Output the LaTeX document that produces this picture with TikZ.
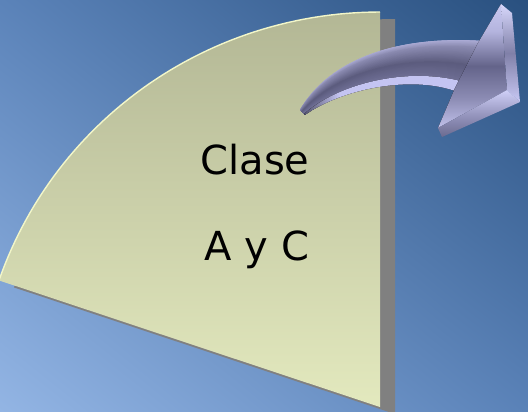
\documentclass[tikz,border=0pt]{standalone}
\usepackage{fontspec}
\setmainfont{DejaVu Sans}
\usetikzlibrary{calc,shadings}
\definecolor{bgUL}{HTML}{5B83B9}
\definecolor{bgUR}{HTML}{29507F}
\definecolor{bgLL}{HTML}{93B5E4}
\definecolor{bgLR}{HTML}{5A82B8}
\definecolor{secTop}{HTML}{B3B795}
\definecolor{secBot}{HTML}{E3E9BE}
\definecolor{arcHL}{HTML}{F2F6C8}
\definecolor{shadowgray}{HTML}{808080}
\definecolor{aEdge}{HTML}{B0B0DA}
\definecolor{aUpper}{HTML}{8A8AB0}
\definecolor{aDark}{HTML}{5C5C7E}
\definecolor{aLowDark}{HTML}{6E6E94}
\definecolor{aBand}{HTML}{C4C4F2}
\definecolor{bandDark}{HTML}{54546F}
\definecolor{hTop}{HTML}{C8C8F0}
\definecolor{hLight}{HTML}{B4B4DE}
\definecolor{hMid}{HTML}{64648A}
\definecolor{hLow}{HTML}{8C8CB4}
\definecolor{hBot}{HTML}{C0C0EA}
\definecolor{bvTop}{HTML}{D8D8FC}
\definecolor{bvMid}{HTML}{8080A8}
\definecolor{bvBot}{HTML}{C8C8F4}
\definecolor{bbDark}{HTML}{6A6A90}
\definecolor{bbMid}{HTML}{9898C0}
\definecolor{bbLight}{HTML}{D0D0F8}
\pgfdeclarehorizontalshading{bandshade}{100bp}{color(0bp)=(bandDark); color(25bp)=(bandDark); color(36bp)=(aBand); color(100bp)=(aBand)}
\pgfdeclareverticalshading{headshade}{100bp}{color(0bp)=(hBot); color(25bp)=(hBot); color(37bp)=(hLow); color(50bp)=(hMid); color(64bp)=(hLight); color(75bp)=(hTop); color(100bp)=(hTop)}
\newcommand\shaftband[5]{%
  \foreach \k in {0,...,#5}{%
    \pgfmathsetmacro\s{#1+(#2-#1)*\k/#5}%
    \pgfmathtruncatemacro\pc{100-100*\k/#5}%
    \draw[line width=2.2pt, color=#3!\pc!#4]
      ($(P0)!\s!(Q0)$) .. controls ($(P1)!\s!(Q1)$) and ($(P2)!\s!(Q2)$) .. ($(P3)!\s!(Q3)$);
  }}
\tikzset{lbl/.style={font=\fontsize{40}{48}\selectfont, text=black, inner sep=0pt}}
\begin{document}
\begin{tikzpicture}[x=1pt,y=-1pt]
\useasboundingbox (0,0) rectangle (528,412);
\shade[upper left=bgUL, upper right=bgUR, lower left=bgLL, lower right=bgLR] (0,0) rectangle (528,412);
% shadow
\fill[shadowgray, shift={(15,7)}] (380,407) -- plot[domain=90:161,samples=60] ({380+403*cos(\x)},{410-398*sin(\x)}) -- cycle;
% sector
\shade[top color=secTop, bottom color=secBot] (380,407) -- plot[domain=90:161,samples=60] ({380+403*cos(\x)},{410-398*sin(\x)}) -- cycle;
\draw[arcHL, line width=1.4pt] plot[domain=90:161,samples=60] ({380+403*cos(\x)},{410-398*sin(\x)});
% text
\node[lbl, anchor=base] (clase) at (255,175) {Clase};
\node[lbl, anchor=base] (ayc) at (257,260) {A y C};
% arrow shaft
\coordinate (P0) at (300,110);
\coordinate (P1) at (330,58);
\coordinate (P2) at (400,35);
\coordinate (P3) at (484,41);
\coordinate (Q0) at (305,115);
\coordinate (Q1) at (340,90);
\coordinate (Q2) at (410,74);
\coordinate (Q3) at (458,92);
\begin{scope}
\clip (P0) .. controls (P1) and (P2) .. (P3) -- (Q3) .. controls (Q2) and (Q1) .. (Q0) -- cycle;
\shaftband{0}{0.15}{aEdge}{aUpper}{8}
\shaftband{0.15}{0.5}{aUpper}{aDark}{20}
\shaftband{0.5}{0.82}{aDark}{aLowDark}{16}
\fill[shading=bandshade] ($(P0)!0.8!(Q0)$) .. controls ($(P1)!0.8!(Q1)$) and ($(P2)!0.8!(Q2)$) .. ($(P3)!0.8!(Q3)$)
  -- (Q3) .. controls (Q2) and (Q1) .. (Q0) -- cycle;
\end{scope}
% arrow head
\coordinate (A) at (501,4);
\coordinate (A2) at (512,13);
\coordinate (B) at (507,90);
\coordinate (B2) at (520,102);
\coordinate (C) at (438,128);
\coordinate (C2) at (442,137);
\coordinate (J1) at (478,43);
\coordinate (J2) at (455,88);
\fill[shading=headshade] (A) -- (B) -- (C) -- (J2) -- (J1) -- cycle;
\shade[top color=bvTop, bottom color=bvBot, middle color=bvMid] (A) -- (A2) -- (B2) -- (B) -- cycle;
\shade[top color=bbLight, bottom color=bbDark, middle color=bbMid] (C) -- (B) -- (B2) -- (C2) -- cycle;
\end{tikzpicture}
\end{document}
